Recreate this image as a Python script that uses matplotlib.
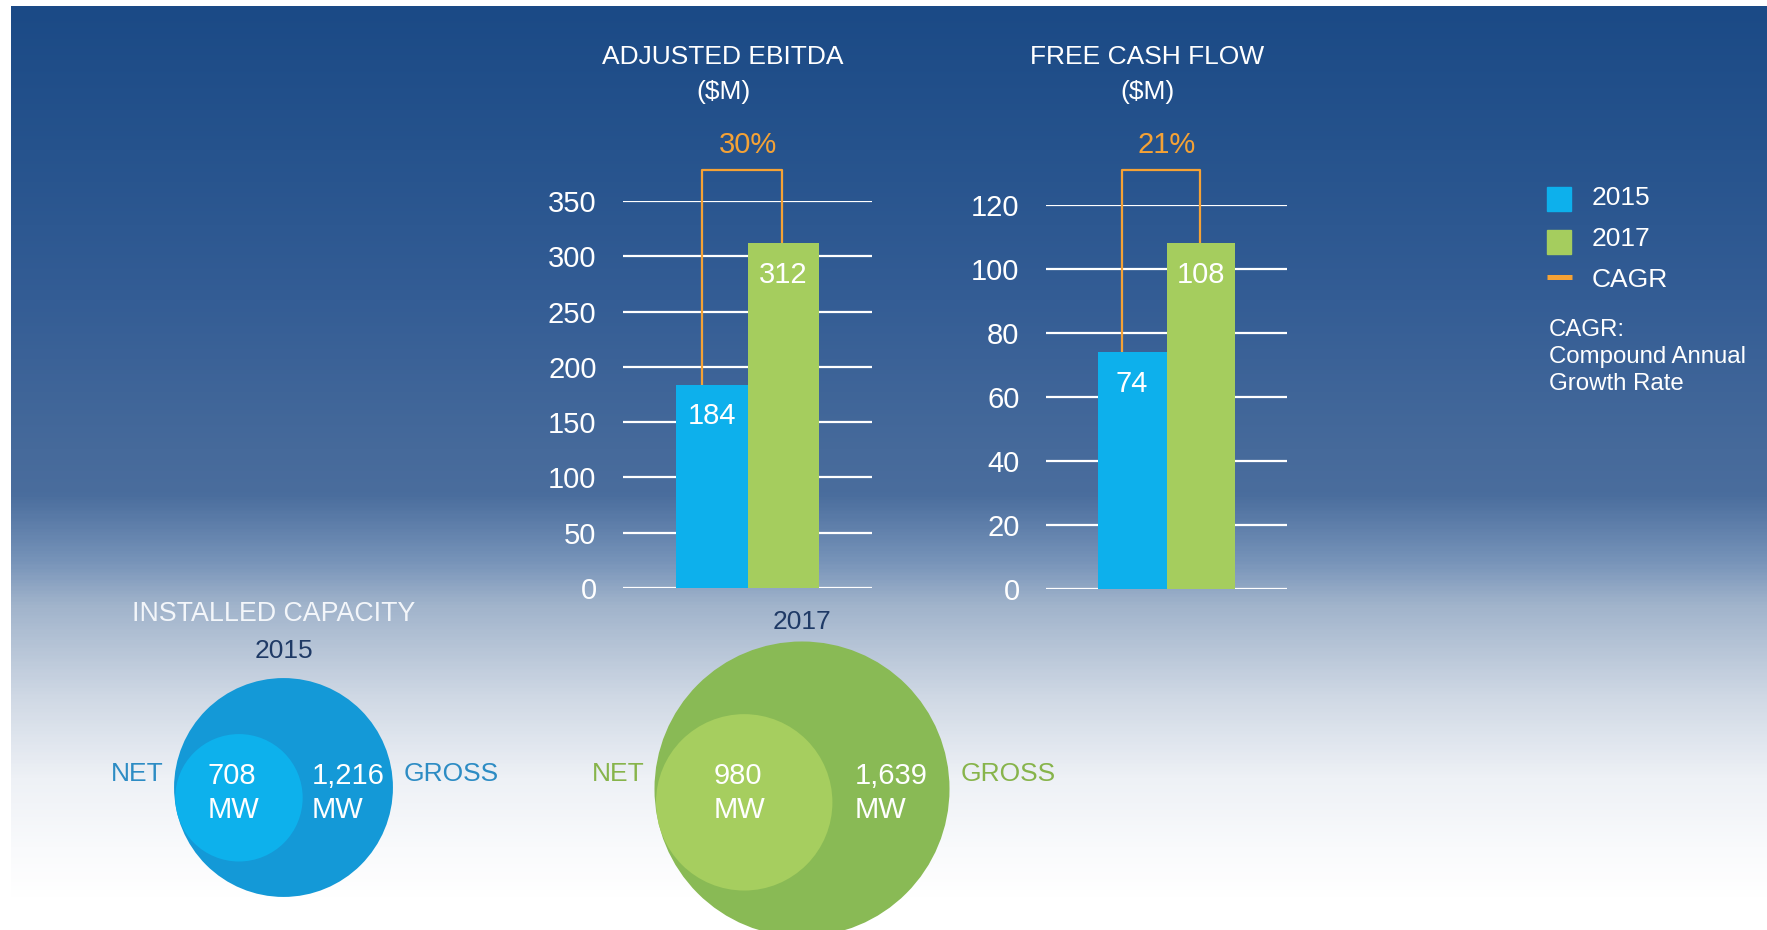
import matplotlib
matplotlib.use("Agg")
import matplotlib.pyplot as plt
import numpy as np
from matplotlib.colors import LinearSegmentedColormap
from matplotlib.patches import Circle, Rectangle

plt.rcParams["font.family"] = ["Liberation Sans", "DejaVu Sans"]

# data
years = ["2015", "2017"]
ebitda = [184, 312]
fcf = [74, 108]
ebitda_cagr = "30%"
fcf_cagr = "21%"
ebitda_ticks = [0, 50, 100, 150, 200, 250, 300, 350]
fcf_ticks = [0, 20, 40, 60, 80, 100, 120]
net_mw = [708, 980]
gross_mw = [1216, 1639]

BLUE = "#0db0ec"
GREEN = "#a5cd5e"
ORANGE = "#f5a235"
RING_OUTER = ["#1499d7", "#89ba55"]
RING_INNER = ["#0db1ec", "#a6ce5f"]
SIDE_TXT = ["#2d8cc4", "#87b44b"]
NAVY = "#1f3a66"

W, H = 1767, 930
fig = plt.figure(figsize=(W / 100, H / 100), dpi=100)


def px_axes(x0, y0, x1, y1, z=1):
    return fig.add_axes([x0 / W, 1 - y1 / H, (x1 - x0) / W, (y1 - y0) / H], zorder=z)


# background gradient
bg = px_axes(11, 6, W, H, z=0)
stops = [(6, "#1b4a86"), (150, "#26538d"), (300, "#345d95"), (450, "#466a9b"),
         (495, "#4a6d9d"), (560, "#7592b8"), (605, "#a0b3cb"), (700, "#d0d9e5"),
         (780, "#eef1f6"), (850, "#f9fafc"), (900, "#ffffff"), (930, "#ffffff")]
cmap = LinearSegmentedColormap.from_list(
    "bg", [((y - 6) / (930 - 6), c) for y, c in stops])
bg.imshow(np.linspace(0, 1, 600).reshape(-1, 1), aspect="auto", cmap=cmap,
          extent=[0, 1, 1, 0], interpolation="bilinear")
bg.axis("off")


def bar_panel(box, values, ticks, cagr, title, title_x):
    ax = px_axes(*box)
    ax.patch.set_alpha(0)
    x = [0, 1]
    ax.bar(x, values, width=1.0, color=[BLUE, GREEN], zorder=3)
    ax.set_xlim(-1.25, 2.25)
    ax.set_ylim(0, ticks[-1])
    ax.set_yticks(ticks)
    ax.set_xticks([])
    ax.grid(axis="y", color="white", lw=1.6)
    ax.set_axisbelow(True)
    for s in ax.spines.values():
        s.set_visible(False)
    ax.tick_params(axis="y", length=0, pad=19, labelsize=21, labelcolor="white")
    for xi, v in zip(x, values):
        ax.annotate(str(v), (xi, v), xytext=(0, -23), textcoords="offset points",
                    ha="center", va="center", color="white", fontsize=21, zorder=4)
    # bracket top sits at the same pixel row (y=170) in both panels
    top = ticks[-1] * (box[3] - 170) / (box[3] - box[1])
    xl, xr = -0.14, 0.99
    ax.plot([xl, xl, xr, xr], [values[0], top, top, values[1]], color=ORANGE,
            lw=1.6, clip_on=False, zorder=2)
    ax.annotate(cagr, (0.5, top), xytext=(0, 18), textcoords="offset points",
                ha="center", va="center", color=ORANGE, fontsize=21,
                annotation_clip=False)
    fig.text(title_x / W, 1 - 57 / H, title, ha="center", va="center",
             color="white", fontsize=19)
    fig.text(title_x / W, 1 - 92 / H, "($M)", ha="center", va="center",
             color="white", fontsize=19)
    return ax


bar_panel((623, 201, 872, 588), ebitda, ebitda_ticks, ebitda_cagr, "ADJUSTED EBITDA", 723)
bar_panel((1046, 205, 1287, 589), fcf, fcf_ticks, fcf_cagr, "FREE CASH FLOW", 1147)

# overlay in pixel coordinates: legend and capacity circles
ov = px_axes(0, 0, W, H, z=5)
ov.set_xlim(0, W)
ov.set_ylim(H, 0)
ov.axis("off")

ov.add_patch(Rectangle((1547, 187), 24, 24, color=BLUE))
ov.add_patch(Rectangle((1547, 230), 24, 24, color=GREEN))
ov.plot([1547, 1572], [277, 277], color=ORANGE, lw=3.6, solid_capstyle="butt")
for lbl, y in zip(years + ["CAGR"], [198, 239, 280]):
    ov.text(1592, y, lbl, ha="left", va="center", color="white", fontsize=19)
ov.text(1549, 357, "CAGR:\nCompound Annual\nGrowth Rate", ha="left", va="center",
        color="white", fontsize=17.3, linespacing=1.3)

ov.text(274, 614, "INSTALLED CAPACITY", ha="center", va="center",
        color="#f3f6fa", fontsize=19.3)

k = 0.09  # px per MW
centers = [(283.5, 787.5), (802, 789)]
year_y = [651, 622]
ang = np.deg2rad(13)
for i, yr in enumerate(years):
    cx, cy = centers[i]
    R = gross_mw[i] * k
    r = net_mw[i] * k
    ix = cx - (R - r) * np.cos(ang)
    iy = cy + (R - r) * np.sin(ang)
    ov.add_patch(Circle((cx, cy), R, color=RING_OUTER[i], lw=0))
    ov.add_patch(Circle((ix, iy), r, color=RING_INNER[i], lw=0))
    ov.text(cx, year_y[i], yr, ha="center", va="center", color=NAVY, fontsize=19)
    ov.text(cx - R - 10, 774, "NET", ha="right", va="center", color=SIDE_TXT[i], fontsize=19)
    ov.text(cx + R + 11, 774, "GROSS", ha="left", va="center", color=SIDE_TXT[i], fontsize=19)
    ov.text(ix - 31, 793, f"{net_mw[i]:,}\nMW", ha="left", va="center",
            multialignment="left", color="white", fontsize=21, linespacing=1.3)
    ov.text((ix + r + cx + R) / 2, 793, f"{gross_mw[i]:,}\nMW", ha="center", va="center",
            multialignment="left", color="white", fontsize=21, linespacing=1.3)

fig.savefig("out.png", dpi=100, facecolor="white")
